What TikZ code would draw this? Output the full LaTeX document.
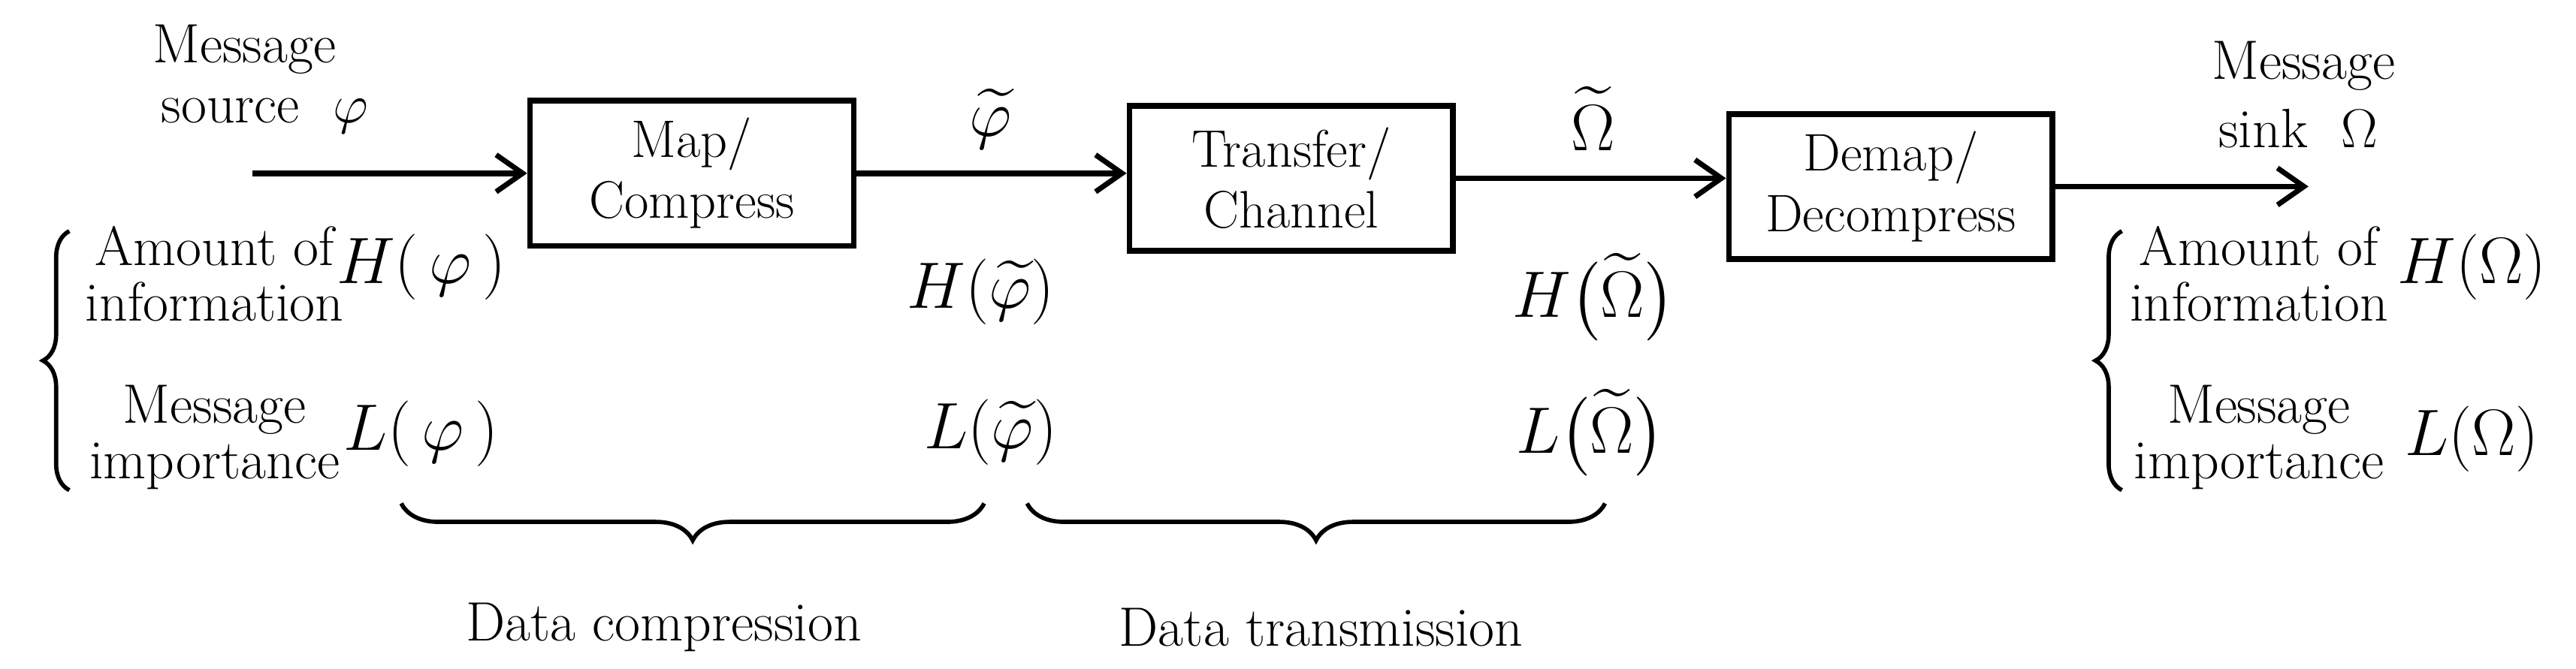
\documentclass[tikz,border=0pt]{standalone}
\usepackage{amsmath}
\usetikzlibrary{decorations.pathreplacing,arrows.meta}
\begin{document}
\begin{tikzpicture}[x=0.02198cm,y=-0.02198cm,
  box/.style={draw,line width=2.2pt,minimum width=196*0.02198cm,minimum height=88*0.02198cm,align=center,font=\fontsize{20}{23}\selectfont},
  arr/.style={line width=2.2pt,-{Straight Barb[length=10pt,width=14pt,line width=2pt]}},
  lbl/.style={align=center,font=\fontsize{21}{25}\selectfont},
  mth/.style={font=\fontsize{27}{30}\selectfont},
  br/.style={line width=1.6pt,decorate,decoration={brace,amplitude=10pt}}]
\useasboundingbox (0,0) rectangle (1560,405);
\node[box] (b1) at (419,105) {Map/\\Compress};
\node[box] (b2) at (782,108) {Transfer/\\Channel};
\node[box] (b3) at (1145,113) {Demap/\\Decompress};
\coordinate (in) at (153,105);
\coordinate (out) at (1398,113);
\draw[arr] (in) -- (b1.west);
\draw[arr] (b1.east) -- (b1.east-|b2.west);
\draw[arr] (b2.east) -- (b2.east-|b3.west);
\draw[arr] (b3.east) -- (out);
\node[lbl] (src1) at (148,30) {Message};
\node[lbl,anchor=west] (src2) at (92,70) {source \ $\varphi$};
\node[mth] (pt) at (600,72) {$\widetilde{\varphi}$};
\node[mth] (ot) at (965,72) {$\widetilde{\Omega}$};
\node[lbl] (snk1) at (1395,40) {Message};
\node[lbl,anchor=west] (snk2) at (1338,78) {sink \ $\Omega$};
\node[lbl] (ai1) at (130,166) {Amount of\\[-4pt]information};
\node[lbl] (mi1) at (130,265) {Message\\[-4pt]importance};
\node[mth] (h1) at (255,162) {$H(\,\varphi\,)$};
\node[mth] (l1) at (255,263) {$L(\,\varphi\,)$};
\node[mth] (h2) at (594,177) {$H(\widetilde{\varphi})$};
\node[mth] (l2) at (600,262) {$L(\widetilde{\varphi})$};
\node[mth] (h3) at (965,180) {$H\bigl(\widetilde{\Omega}\bigr)$};
\node[mth] (l3) at (963,262) {$L\bigl(\widetilde{\Omega}\bigr)$};
\node[lbl] (ai2) at (1368,166) {Amount of\\[-4pt]information};
\node[lbl] (mi2) at (1368,265) {Message\\[-4pt]importance};
\node[mth] (h4) at (1497,162) {$H(\Omega)$};
\node[mth] (l4) at (1497,266) {$L(\Omega)$};
\coordinate (lb1) at (42,297); \coordinate (lt1) at (42,140);
\coordinate (lb2) at (1285,297); \coordinate (lt2) at (1285,140);
\draw[br] (lb1) -- (lt1);
\draw[br] (lb2) -- (lt2);
\coordinate (c1a) at (243,305); \coordinate (c1b) at (596,305);
\coordinate (c2a) at (622,305); \coordinate (c2b) at (972,305);
\draw[br,decoration={amplitude=14pt}] (c1b) -- (c1a);
\draw[br,decoration={amplitude=14pt}] (c2b) -- (c2a);
\node[lbl] (dc) at (402,380) {Data compression};
\node[lbl] (dt) at (800,380) {Data transmission};
\end{tikzpicture}
\end{document}
